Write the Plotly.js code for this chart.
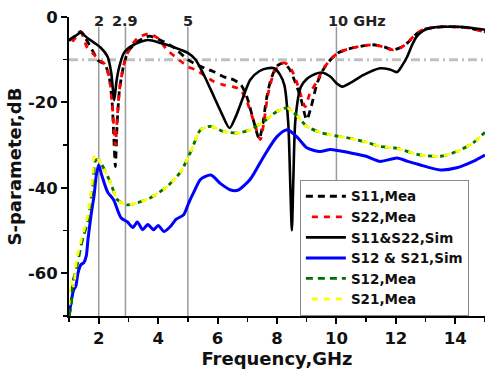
<!DOCTYPE html>
<html>
<head>
<meta charset="utf-8">
<script src="https://cdn.plot.ly/plotly-3.0.1.min.js"></script>
<style>html,body{margin:0;padding:0;background:#fff}#chart{width:485px;height:371px}</style>
</head>
<body>
<div id="chart"></div>
<script>
// ---- data ----
const s11SimF = [1.0,1.2,1.4,1.6,1.84,2.07,2.3,2.42,2.52,2.6,2.68,2.85,3.18,3.65,4.09,4.5,5.0,5.26,5.5,5.77,6.1,6.4,6.6,6.77,7.1,7.4,7.68,7.9,8.1,8.25,8.38,8.45,8.5,8.55,8.62,8.8,9.0,9.2,9.5,9.8,10.0,10.2,10.5,10.9,11.47,11.8,12.04,12.2,12.38,12.55,12.7,12.9,13.15,13.6,14.05,14.5,15.0];
const s11SimDb = [-5.4,-4.5,-3.7,-4.8,-6,-7.2,-9.3,-13,-19.5,-15,-12,-8.4,-6.5,-5.4,-6.1,-7,-8.4,-10,-13,-17,-22,-26,-23.5,-20.5,-14.7,-12.7,-12,-12,-13.5,-16,-25,-40,-50,-38,-24,-16.4,-14.5,-13.6,-13,-14,-15.5,-16.3,-15.3,-13.6,-12,-12.3,-12.9,-11.5,-9.3,-6.5,-4.6,-3.3,-2.6,-2.3,-2.3,-2.5,-3];

const s11MeaF = [1.0,1.2,1.4,1.6,1.8,2.0,2.2,2.35,2.45,2.52,2.56,2.62,2.7,2.85,3.0,3.3,3.7,4.1,4.5,5.0,5.4,5.87,6.2,6.54,6.8,7.0,7.2,7.4,7.5,7.65,7.8,8.0,8.2,8.4,8.6,8.8,9.0,9.15,9.35,9.55,9.8,10.03,10.4,10.7,11.2,11.6,11.9,12.2,12.4,12.6,12.9,13.5,14.0,14.5,15.0];
const s11MeaDb = [-5.5,-4.5,-3.4,-5.5,-8,-10.3,-11,-14,-20,-30,-35,-25,-17,-11,-8,-5.8,-4.5,-5.5,-7,-10,-11.5,-12.8,-14,-14.7,-16,-19,-24,-28.5,-26,-19,-14.5,-11.5,-10.8,-12,-15,-19,-24,-21,-15.5,-12.4,-10,-8.5,-7.5,-7,-6.5,-7,-7.7,-7,-6,-4.5,-3,-2.3,-2.3,-2.6,-3.5];

const s22MeaF = [1.0,1.2,1.4,1.6,1.8,2.0,2.2,2.35,2.45,2.52,2.56,2.62,2.7,2.85,3.0,3.3,3.7,4.0,4.3,4.7,5.0,5.3,5.87,6.2,6.5,6.77,7.0,7.2,7.44,7.55,7.7,7.9,8.1,8.28,8.5,8.7,8.95,9.1,9.35,9.55,9.8,10.03,10.4,10.7,11.2,11.6,11.9,12.2,12.4,12.6,12.9,13.5,14.0,14.5,15.0];
const s22MeaDb = [-7,-5,-3.6,-7,-8.5,-10,-11,-14,-20,-27,-30,-24,-17,-11,-8,-5,-3.9,-5,-7.7,-10,-11.6,-12.5,-15.1,-15.9,-16.3,-17,-20,-24,-28.7,-25,-18,-13,-11,-10.8,-12.5,-16,-21,-18,-15,-12.2,-10,-8.5,-7.5,-7,-6.5,-7,-7.7,-7,-6,-4.5,-3,-2.3,-2.3,-2.6,-3.5];

const s21SimF = [1.0,1.07,1.15,1.23,1.3,1.4,1.5,1.58,1.64,1.75,1.84,1.92,2.0,2.1,2.3,2.5,2.75,2.97,3.15,3.3,3.48,3.65,3.85,4.0,4.2,4.42,4.6,4.86,5.03,5.2,5.43,5.77,6.1,6.44,6.7,7.1,7.55,8.0,8.35,8.7,9.0,9.45,9.8,10.46,11.0,11.47,12.04,12.4,12.8,13.5,14.05,14.6,15.0];
const s21SimDb = [-70,-66.8,-64,-63,-60,-58,-57.5,-56,-52,-46,-42,-37,-34.6,-37,-41,-42.8,-47,-48,-49.3,-48,-49.8,-48.6,-49.8,-48.8,-50.2,-49,-47.4,-46.3,-43.5,-41,-38,-37,-39,-40.5,-40.5,-38,-32.7,-28,-26.4,-28.3,-30.6,-31.5,-31,-31.8,-32.6,-33.8,-33,-33.8,-34.6,-35.8,-35.3,-33.8,-32.3];

const s12MeaF = [1.0,1.07,1.13,1.25,1.4,1.5,1.63,1.72,1.8,1.9,2.0,2.1,2.4,2.63,2.97,3.3,3.75,4.3,4.76,5.1,5.43,5.77,6.2,6.67,7.1,7.55,8.0,8.35,8.7,9.0,9.45,9.8,10.46,11.0,11.47,12.0,12.4,12.8,13.5,14.05,14.6,15.0];
const s12MeaDb = [-70,-67.8,-62,-59,-53.7,-51,-48,-44,-39.5,-33.5,-33.5,-34.5,-38.8,-42.8,-44,-43.5,-42.3,-39.7,-36.2,-31.5,-26.4,-25.6,-26.8,-27.2,-26.4,-24.5,-22.1,-21.3,-23.3,-25.6,-27,-27.6,-28.4,-29.3,-30.3,-30.7,-31.5,-32.3,-32.6,-31.5,-29.5,-27];

const s21MeaF = [1.0,1.05,1.15,1.25,1.4,1.5,1.63,1.72,1.8,1.86,2.0,2.1,2.4,2.63,2.97,3.3,3.75,4.3,4.76,5.1,5.43,5.77,6.2,6.67,7.1,7.55,8.0,8.35,8.7,9.0,9.45,9.8,10.46,11.0,11.47,12.0,12.4,12.8,13.5,14.05,14.6,15.0];
const s21MeaDb = [-69,-62,-63,-57,-52.5,-50,-46.5,-42,-37.5,-32.2,-33.5,-34.5,-38.8,-42.8,-44,-43.5,-42.3,-39.7,-36.2,-31.5,-26.4,-25.6,-26.8,-27.2,-26.4,-24.5,-22.1,-21.3,-23.3,-25.6,-27,-27.6,-28.4,-29.3,-30.3,-30.7,-31.5,-32.3,-32.6,-31.5,-29.5,-27];

const markerFreqs = [2, 2.9, 5, 10];
const markerLabels = ['2', '2.9', '5', '10 GHz'];
const refLevel = -10;
const yTickVals = [0, -20, -40, -60];
const yTickText = ['0', '-20', '-40', '-60'];

// ---- chart ----
const FONT = '"DejaVu Sans", Arial, sans-serif';
const ln = (color, dash, w) => ({color: color, width: w || 2.8, dash: dash, shape: 'spline', smoothing: 0.7});

const traces = [
  {x: s11MeaF, y: s11MeaDb, name: 'S11,Mea', mode: 'lines', line: ln('#000000', '7px,5px')},
  {x: s22MeaF, y: s22MeaDb, name: 'S22,Mea', mode: 'lines', line: ln('#ff0000', '0px,6px,6px,0px')},
  {x: s11SimF, y: s11SimDb, name: 'S11&S22,Sim', mode: 'lines', line: ln('#000000', 'solid', 2.6)},
  {x: s21SimF, y: s21SimDb, name: 'S12 & S21,Sim', mode: 'lines', line: ln('#0000ff', 'solid', 3)},
  {x: s12MeaF, y: s12MeaDb, name: 'S12,Mea', mode: 'lines', line: ln('#007000', '7px,5px')},
  {x: s21MeaF, y: s21MeaDb, name: 'S21,Mea', mode: 'lines', line: ln('#ffff00', '0px,6px,6px,0px')}
];

const shapes = markerFreqs.map(f => ({
  type: 'line', xref: 'x', yref: 'paper', x0: f, x1: f, y0: 0, y1: 0.967,
  line: {color: '#9a9a9a', width: 1.5}, layer: 'below'
}));
shapes.push({
  type: 'line', xref: 'paper', yref: 'y', x0: 0, x1: 1, y0: refLevel, y1: refLevel,
  line: {color: '#c0c0c0', width: 3, dash: '9px,4px,2px,4px'}, layer: 'below'
});

const annotations = markerFreqs.map((f, i) => ({
  x: f, y: 0.987, xref: 'x', yref: 'paper', text: markerLabels[i], showarrow: false,
  xanchor: i === 3 ? 'left' : 'center', xshift: i === 3 ? -10 : 0, yanchor: 'middle',
  font: {family: FONT, size: 14.5, color: '#222', weight: 'bold'}
}));

const layout = {
  width: 485, height: 371,
  margin: {l: 69, r: 0, t: 17, b: 55},
  paper_bgcolor: '#ffffff', plot_bgcolor: '#ffffff',
  showlegend: true,
  legend: {
    x: 0.555, y: 0.455, xanchor: 'left', yanchor: 'top',
    bgcolor: '#ffffff', bordercolor: '#8a8a8a', borderwidth: 1,
    font: {family: FONT, size: 13.5, color: '#111', weight: 'bold'},
    tracegroupgap: 0, itemwidth: 40
  },
  xaxis: {
    range: [1, 15], tickmode: 'linear', tick0: 0, dtick: 2,
    showgrid: false, zeroline: false, showline: true, linecolor: '#000', linewidth: 2,
    ticks: 'outside', ticklen: 6, tickwidth: 2, tickcolor: '#000',
    minor: {dtick: 1, tick0: 0, ticks: 'outside', ticklen: 4, tickwidth: 1.5, tickcolor: '#000'},
    tickfont: {family: FONT, size: 16.5, color: '#111', weight: 'bold'},
    title: {text: 'Frequency,GHz', font: {family: FONT, size: 18, color: '#111', weight: 'bold'}, standoff: 2}
  },
  yaxis: {
    range: [-70, 0], tickmode: 'array', tickvals: yTickVals, ticktext: yTickText,
    showgrid: false, zeroline: false, showline: true, linecolor: '#000', linewidth: 2,
    ticks: 'outside', ticklen: 6, tickwidth: 2, tickcolor: '#000',
    minor: {dtick: 10, tick0: 0, ticks: 'outside', ticklen: 4, tickwidth: 1.5, tickcolor: '#000'},
    tickfont: {family: FONT, size: 16.5, color: '#111', weight: 'bold'},
    title: {text: 'S-parameter,dB', font: {family: FONT, size: 18, color: '#111', weight: 'bold'}, standoff: 2}
  },
  shapes: shapes,
  annotations: annotations
};

Plotly.newPlot('chart', traces, layout, {displayModeBar: false, staticPlot: true});
</script>
</body>
</html>
